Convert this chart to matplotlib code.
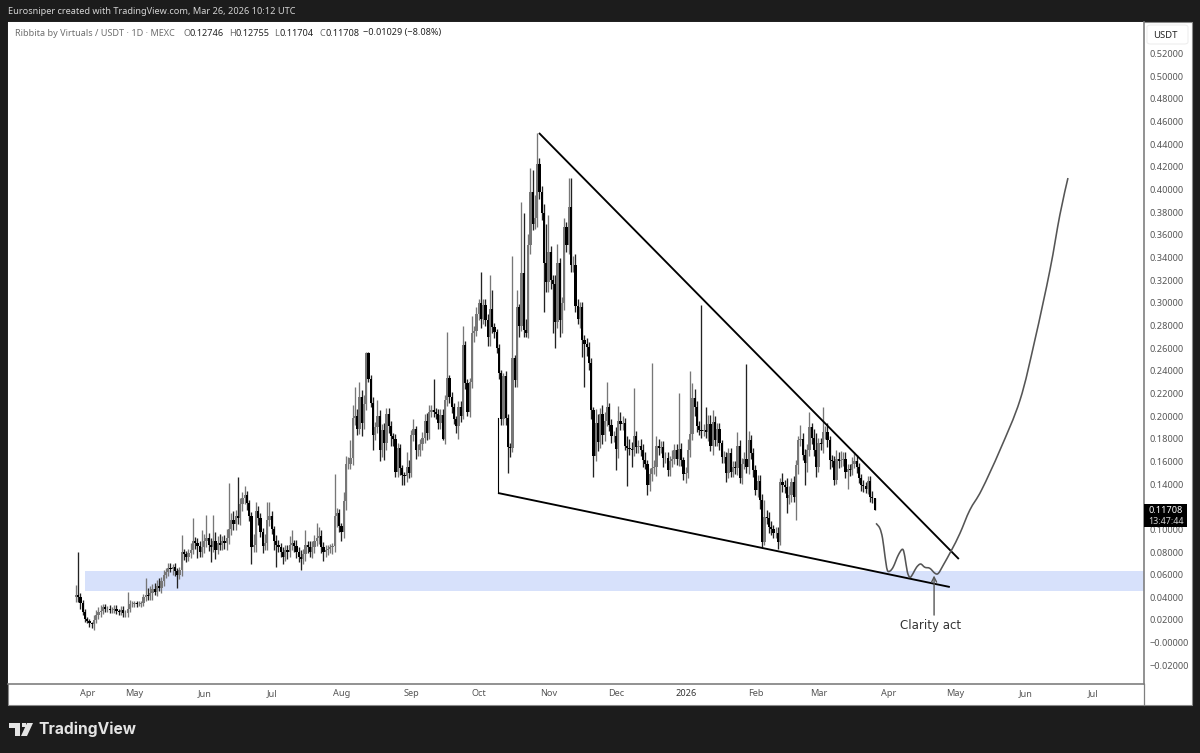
import numpy as np
import pandas as pd
import matplotlib
matplotlib.use("Agg")
import matplotlib.pyplot as plt
import matplotlib.dates as mdates
from matplotlib.patches import Rectangle, Polygon, FancyBboxPatch, PathPatch
from matplotlib.path import Path

# ---- candle data (milli-USDT) ----
closes = [
42,40,35,27,21,19,17,16,20,24, 27,28,31,30,30,29,29,30,28,27,
29,26,26,30,34,34,35,34,34,35, 40,42,41,44,47,45,50,48,54,60,
62,66,65,67,63,60,64,80,78,76, 79,82,90,88,85,80,84,90,92,86,
84,90,82,88,86,90,88,92,100,108, 105,112,110,122,128,130,123,112,84,86,
116,110,98,85,88,108,112,100,90,86, 84,80,76,82,80,86,88,85,80,76,
74,78,86,84,80,84,90,92,94,84, 80,82,83,84,85,112,114,103,98,125,
158,158,163,198,200,189,217,194,211,256, 233,212,183,190,200,170,188,176,202,191,
182,180,151,172,154,148,147,155,150,183, 189,170,170,175,181,196,185,204,205,204,
202,194,201,180,214,234,217,208,197,191, 208,200,263,229,204,230,273,275,290,300,
286,298,285,270,295,279,274,260,238,197, 235,198,173,172,251,232,296,280,326,276,
273,351,398,370,375,423,398,379,335,318, 345,320,317,283,335,285,300,367,351,385,
333,333,297,286,296,267,264,261,247,205, 165,194,177,202,183,196,208,192,182,182,
171,196,193,194,174,172,171,170,182,173, 174,170,161,158,139,149,154,155,174,172,
173,163,163,152,160,162,170,162,171,161, 149,150,170,184,216,208,191,188,187,188,
186,193,174,195,179,189,176,164,164,150, 167,151,155,154,174,145,158,162,155,179,
167,152,135,143,126,89,111,110,102,100, 97,97,89,142,139,137,128,130,142,129,
157,179,180,166,159,170,190,181,170,155, 176,175,186,186,179,161,160,144,162,160,
161,162,151,153,152,158,160,155,145,139, 138,136,143,129,127.46,117.08]

upper_wicks = [
9,38,4,3,3,2,2,1,4,5, 4,5,3,3,2,3,2,3,3,2,
3,3,3,15,4,3,2,2,3,2, 3,15,6,6,5,6,5,7,4,4,
4,4,4,2,3,3,3,15,3,3, 4,6,20,3,4,5,15,6,21,5,
6,23,8,6,8,4,5,8,41,6, 8,5,34,6,5,8,4,3,3,10,
8,5,4,3,8,16,12,4,3,5, 5,4,4,4,4,8,11,3,6,4,
6,5,13,4,6,6,5,14,8,5, 5,4,3,3,3,37,5,4,3,8,
7,6,16,12,26,6,13,6,8,1, 1,3,5,5,14,5,5,6,5,5,
5,3,4,4,3,3,3,13,6,5, 8,2,5,5,5,6,7,6,5,28,
3,4,5,5,5,40,2,4,4,3, 5,5,17,3,4,4,15,5,6,3,
27,5,5,5,30,16,3,3,4,3, 3,5,4,3,90,3,15,3,63,53,
10,10,21,19,20,27,5,5,8,35, 33,5,5,8,17,5,5,8,4,25,
25,8,10,6,5,5,5,5,4,4, 3,12,8,5,8,8,22,4,5,5,
8,13,8,6,4,8,8,6,43,5, 5,6,5,7,3,5,93,6,8,6,
5,5,5,5,5,8,5,5,49,5, 3,5,10,56,13,8,5,5,110,5,
20,8,8,10,5,5,5,3,5,4, 5,5,5,5,12,5,5,6,84,8,
4,5,5,5,5,5,15,6,5,5, 4,5,5,3,8,5,8,8,3,5,
4,3,12,5,5,5,14,4,8,15, 5,5,22,5,8,3,5,5,8,6,
8,6,6,5,5,6,8,6,4,4, 5,4,4,4,5,0.09]

lower_wicks = [
4,4,5,3,3,2,3,3,5,3, 3,4,3,3,3,3,3,3,3,3,
3,3,3,3,3,3,3,3,2,3, 3,3,3,3,6,3,4,2,4,4,
3,3,3,5,4,12,4,5,5,5, 4,4,4,5,10,4,4,5,6,5,
13,4,8,4,4,4,5,6,5,5, 6,6,5,6,6,6,6,5,15,4,
6,6,5,6,3,6,5,4,8,19, 4,4,7,4,6,4,4,5,5,5,
10,5,6,5,4,5,5,5,5,5, 8,4,5,4,6,5,10,5,8,6,
8,5,5,6,6,6,5,12,5,6, 3,4,13,4,5,10,6,15,6,6,
8,6,5,5,6,9,8,5,5,4, 5,8,5,5,5,5,6,5,5,5,
5,5,5,1,5,5,5,5,4,6, 11,5,3,5,4,5,5,8,4,5,
8,5,5,8,8,6,5,4,5,5, 5,6,23,8,4,6,6,10,5,6,
3,4,8,6,5,8,6,6,43,8, 8,8,44,23,5,15,12,6,6,8,
6,6,5,5,8,15,38,8,6,8, 19,5,8,5,8,5,5,5,6,5,
19,8,5,5,4,34,5,15,5,6, 6,5,6,5,9,5,6,5,8,6,
5,8,4,5,5,5,4,5,6,5, 5,8,5,6,5,8,5,5,6,5,
5,8,5,8,5,5,6,5,5,8, 5,5,5,5,6,4,5,5,5,6,
5,6,5,6,8,5,3,5,5,5, 5,5,6,3,6,5,14,6,6,5,
21,8,5,5,20,8,5,6,5,9, 4,5,8,6,6,8,5,5,4,6,
5,5,6,15,5,4,4,5,4,5, 5,4,5,5,4,0.04]

first_bar = "2025-04-05"

# ---- axis labels (0.12000 sits fully behind the last-price tag in the reference) ----
y_ticks = [-0.02, 0.0, 0.02, 0.04, 0.06, 0.08, 0.10, 0.14, 0.16, 0.18, 0.20, 0.22, 0.24,
           0.26, 0.28, 0.30, 0.32, 0.34, 0.36, 0.38, 0.40, 0.42, 0.44, 0.46, 0.48, 0.50, 0.52]
x_tick_dates = ["2025-04-10", "2025-05-01", "2025-06-01", "2025-07-01", "2025-08-01", "2025-09-01",
                "2025-10-01", "2025-11-01", "2025-12-01", "2026-01-01", "2026-02-01", "2026-03-01",
                "2026-04-01", "2026-05-01", "2026-06-01", "2026-07-01"]
x_tick_labels = ["Apr", "May", "Jun", "Jul", "Aug", "Sep", "Oct", "Nov", "Dec", "2026", "Feb", "Mar",
                 "Apr", "May", "Jun", "Jul"]

# ---- hand drawings on the chart (day offset from first bar, price) ----
upper_line_days = [205.8, 392.4]
upper_line_prices = [0.450, 0.0738]
lower_line_days = [187.6, 388.4]
lower_line_prices = [0.1321, 0.0491]
stem_days = [187.6, 187.6]
stem_prices = [0.1321, 0.198]
path_days = [355.6, 357.3, 358.5, 359.6, 360.6, 361.8, 363.3, 365.5, 367.4, 368.4, 369.5, 370.7, 372.1,
             373.6, 375.4, 377.3, 379.5, 381.8, 383.3, 385.5, 389.2, 392.9, 397.3, 402.5, 410.7, 419.6,
             426.2, 432.9, 437.3, 440.9]
path_prices = [.1053, .1009, .0921, .0759, .0641, .0632, .0670, .0773, .0824, .0759, .0626, .0576, .0612,
               .0665, .0694, .0665, .0656, .0612, .0612, .0685, .0818, .0965, .1171, .1347, .1701, .2142,
               .2672, .3290, .3776, .4102]
zone_start_day = 4
zone_prices = (0.0456, 0.0632)
arrow_day = 381.4
arrow_prices = (0.0243, 0.0592)
note_day = 380.0
note_price = 0.0155

W, H = 1200, 753
plt.rcParams["font.family"] = ["Noto Sans", "DejaVu Sans"]
fig = plt.figure(figsize=(W / 100, H / 100), dpi=100, facecolor="#1c1c1c")


def fx(x):
    return x / W


def fy(y):
    return 1 - y / H


def smooth_path(xs, ys):
    """Bezier path through the given points (Catmull-Rom tangents)."""
    p = np.column_stack([xs, ys])
    verts, codes = [p[0]], [Path.MOVETO]
    for k in range(len(p) - 1):
        p0 = p[max(k - 1, 0)]
        p1, p2 = p[k], p[k + 1]
        p3 = p[min(k + 2, len(p) - 1)]
        verts += [p1 + (p2 - p0) / 6, p2 - (p3 - p1) / 6, p2]
        codes += [Path.CURVE4] * 3
    return Path(verts, codes)


# white panel
fig.patches.append(Rectangle((fx(8), fy(705)), 1184 / W, 683 / H, transform=fig.transFigure,
                             facecolor="white", edgecolor="#8a8a8a", lw=0.8, zorder=0))

ax = fig.add_axes([fx(8), fy(684), 1136 / W, 662 / H], facecolor="white", zorder=1)

c = np.array(closes, dtype=float) / 1000
o = np.r_[0.040, c[:-1]]   # daily crypto bars open at the previous close
hi = np.maximum(o, c) + np.array(upper_wicks, dtype=float) / 1000
lo = np.minimum(o, c) - np.array(lower_wicks, dtype=float) / 1000
d0 = mdates.date2num(pd.Timestamp(first_bar))
t = d0 + np.arange(len(c))
up = c >= o

UP, DOWN = "#777777", "#000000"
ax.vlines(t[up], lo[up], hi[up], color=UP, lw=0.95, zorder=2)
ax.vlines(t[~up], lo[~up], hi[~up], color="#222222", lw=0.95, zorder=2)
ax.bar(t[up], (c - o)[up], bottom=o[up], width=0.95, color=UP, lw=0, zorder=3)
ax.bar(t[~up], (o - c)[~up], bottom=c[~up], width=0.95, color=DOWN, lw=0, zorder=3)

ax.set_xlim(d0 - 30.2, d0 + 474.7)
ax.set_ylim((642.6 - 684) / 1132.5, (642.6 - 22) / 1132.5)

ax.add_patch(Rectangle((d0 + zone_start_day, zone_prices[0]), 600, zone_prices[1] - zone_prices[0],
                       facecolor="#d7e1fb", edgecolor="none", zorder=1.5))
ax.plot(d0 + np.array(upper_line_days), upper_line_prices, color="black", lw=1.35, zorder=4,
        solid_capstyle="butt")
ax.plot(d0 + np.array(lower_line_days), lower_line_prices, color="black", lw=1.35, zorder=4,
        solid_capstyle="butt")
ax.plot(d0 + np.array(stem_days), stem_prices, color="black", lw=0.8, zorder=4)
ax.add_patch(PathPatch(smooth_path(d0 + np.array(path_days), path_prices), facecolor="none",
                       edgecolor="#555555", lw=1.15, zorder=4))
ax.annotate("", xy=(d0 + arrow_day, arrow_prices[1]), xytext=(d0 + arrow_day, arrow_prices[0]),
            arrowprops=dict(arrowstyle="->", color="#555555", lw=1.0, shrinkA=0, shrinkB=0,
                            mutation_scale=9), zorder=4)
ax.text(d0 + note_day, note_price, "Clarity act", ha="center", va="center", fontsize=8.5,
        family=["DejaVu Sans"], color="#333333", zorder=4)

# axes
for s in ["top", "left"]:
    ax.spines[s].set_visible(False)
for s in ["bottom", "right"]:
    ax.spines[s].set_color("#7f7f7f")
    ax.spines[s].set_linewidth(1.2)
ax.yaxis.tick_right()
ax.set_yticks(y_ticks)
ax.set_yticklabels([("\u2212" if v < 0 or abs(v) < 1e-9 else "") + f"{abs(v):.5f}" for v in y_ticks],
                   fontsize=6.6, color="#555555")
ax.tick_params(axis="y", length=0, pad=4.2)
ax.set_xticks(mdates.date2num(pd.to_datetime(x_tick_dates)))
ax.set_xticklabels(x_tick_labels, fontsize=6.6, color="#555555")
ax.tick_params(axis="x", length=0, pad=3.5)
for lab in ax.get_xticklabels():
    if lab.get_text() == "2026":
        lab.set_fontweight("bold")
        lab.set_color("#333333")

# divider of the time-axis / price-axis corner
fig.add_artist(plt.Line2D([fx(1144), fx(1144)], [fy(684), fy(705)], color="#7f7f7f", lw=0.9,
                          transform=fig.transFigure, zorder=5))

# header
fig.text(fx(8), fy(11), "Eurosniper created with TradingView.com, Mar 26, 2026 10:12 UTC", color="#d4d4d4",
         fontsize=6.6, va="center", ha="left", zorder=5)

# legend line
lc = "#6e6e6e"
vc = "#222222"
pieces = [(15, "Ribbita by Virtuals / USDT \u00b7 1D \u00b7 MEXC", lc),
          (184, "O", lc), (190, "0.12746", vc),
          (229, "H", lc), (235, "0.12755", vc),
          (274, "L", lc), (280, "0.11704", vc),
          (319, "C", lc), (325, "0.11708", vc),
          (363, "\u22120.01029 (\u22128.08%)", vc)]
for px, s, col in pieces:
    fig.text(fx(px), fy(33), s, color=col, fontsize=6.55, va="center", ha="left", zorder=5)

# USDT box
fig.patches.append(FancyBboxPatch((fx(1147), fy(44)), 41 / W, 19 / H, transform=fig.transFigure,
                                  boxstyle="round,pad=0,rounding_size=0.003", facecolor="white",
                                  edgecolor="#eeeeee", lw=0.8, zorder=4))
fig.text(fx(1165), fy(35), "USDT", color="#222222", fontsize=6.8, ha="center", va="center", zorder=5)

# last price tag
fig.patches.append(Rectangle((fx(1144), fy(527)), 43 / W, 23 / H, transform=fig.transFigure,
                             facecolor="black", edgecolor="none", zorder=6))
fig.text(fx(1165.5), fy(510.5), "0.11708", color="white", fontsize=6.6, fontweight="bold", ha="center",
         va="center", zorder=7)
fig.text(fx(1165.5), fy(521), "13:47:44", color="#cfcfcf", fontsize=6.4, ha="center", va="center", zorder=7)

# TradingView footer
LOGO = "#e4e4e4"
fig.patches.append(Polygon([(fx(9), fy(723)), (fx(20), fy(723)), (fx(20), fy(736)), (fx(15), fy(736)),
                            (fx(15), fy(728)), (fx(9), fy(728))], closed=True, transform=fig.transFigure,
                           facecolor=LOGO, edgecolor="none", zorder=5))
fig.patches.append(Polygon([(fx(27), fy(723)), (fx(33), fy(723)), (fx(27), fy(736)), (fx(21), fy(736))],
                           closed=True, transform=fig.transFigure, facecolor=LOGO, edgecolor="none", zorder=5))
fig.patches.append(Polygon([(fx(22), fy(723)), (fx(25.5), fy(723)), (fx(25.5), fy(727)), (fx(22), fy(727))],
                           closed=True, transform=fig.transFigure, facecolor=LOGO, edgecolor="none", zorder=5))
fig.text(fx(38), fy(729), "TradingView", color=LOGO, fontsize=11.2, fontweight="bold", ha="left", va="center",
         family=["Inter", "DejaVu Sans"], zorder=5)

fig.savefig("out.png", dpi=100, facecolor=fig.get_facecolor())
